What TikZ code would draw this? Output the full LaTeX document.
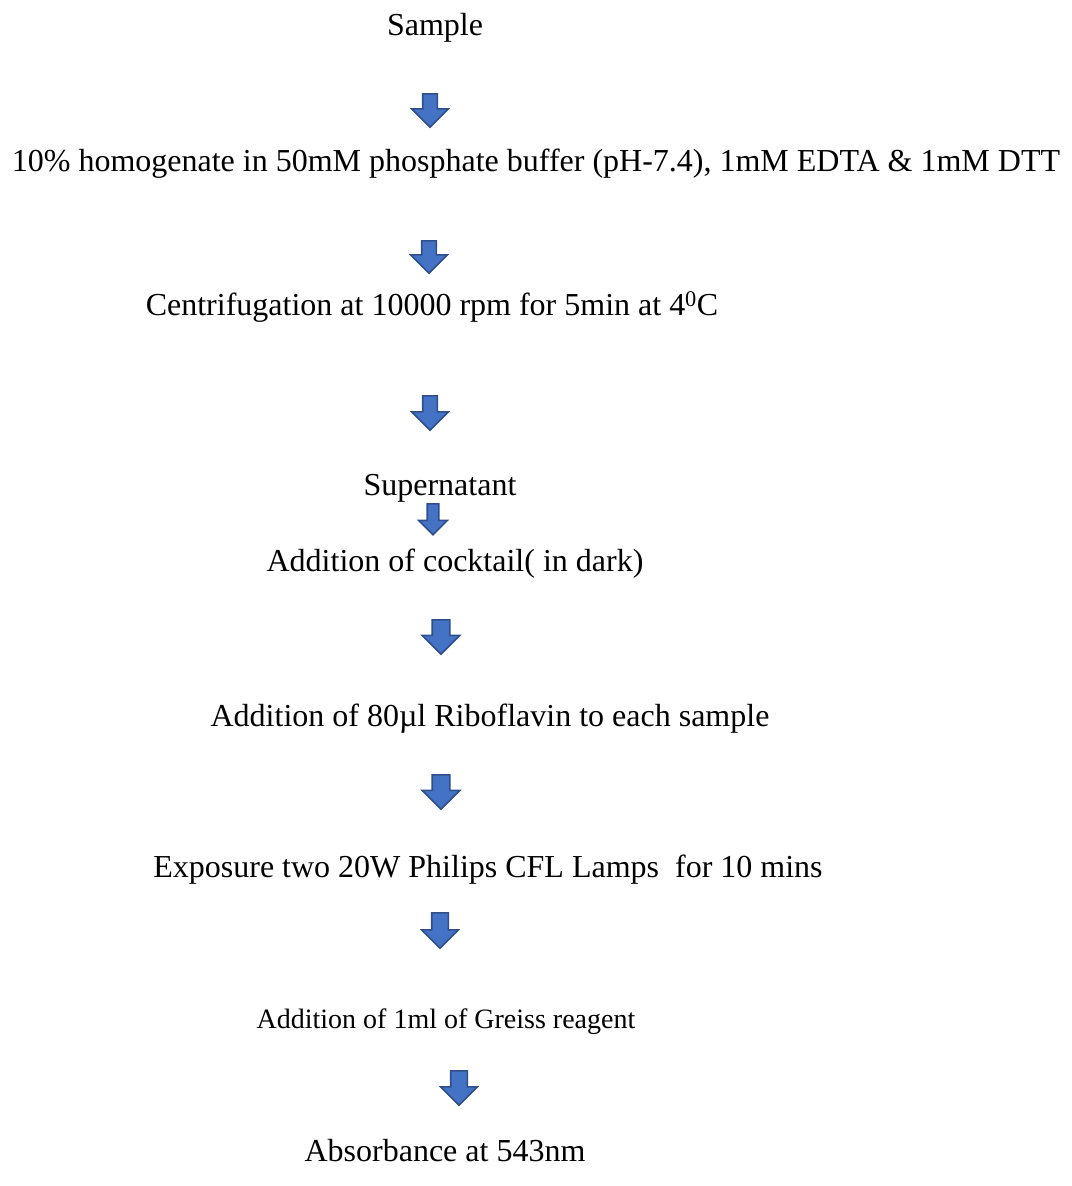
\documentclass[tikz,border=0pt]{standalone}
\usepackage{fontspec}
\setmainfont{Liberation Serif}
\usepackage{tikz}
\usetikzlibrary{shapes.arrows}
\definecolor{arrowfill}{HTML}{4472C4}
\definecolor{arrowedge}{HTML}{2F4F8A}
\tikzset{stagetext/.style={font=\fontsize{32}{38}\selectfont, inner sep=0pt}}
\tikzset{bluearrow/.style n args={3}{shape=single arrow, rotate=-90, anchor=tail, draw=arrowedge, fill=arrowfill, line width=1.6pt,
  inner xsep=#3/2-#2/4+4pt, inner ysep=#1/2, single arrow head extend=#2/2-#1/2, text height=0pt, text depth=0pt}}

\begin{document}
\begin{tikzpicture}[x=1pt,y=-1pt]
\useasboundingbox (0,0) rectangle (1071,1186);
\node[stagetext] (sample) at (435,28) {Sample};
\node[stagetext] (homog) at (536,164) {10\% homogenate in 50mM phosphate buffer (pH-7.4), 1mM EDTA \& 1mM DTT};
\node[stagetext] (centri) at (432,307) {Centrifugation at 10000 rpm for 5min at 4\textsuperscript{0}C};
\node[stagetext] (super) at (440,488) {Supernatant};
\node[stagetext] (cocktail) at (455,564) {Addition of cocktail( in dark)};
\node[stagetext] (ribo) at (490,719) {Addition of 80µl Riboflavin to each sample};
\node[stagetext] (lamps) at (488,870) {Exposure two 20W Philips CFL Lamps~ for 10 mins};
\node[stagetext,font=\fontsize{28}{34}\selectfont] (greiss) at (446,1022) {Addition of 1ml of Greiss reagent};
\node[stagetext] (absorb) at (445,1151) {Absorbance at 543nm};
% block arrows between the steps, placed by their tails
\foreach \n/\x/\y/\s/\w/\l in {1/430/93/13/35/34, 2/429/240/13/35/33, 3/430/395/13/35/35, 4/433/503/10/27/29,
  5/441/619/16/36/34, 6/441/774/16/36/34, 7/440/912/15/35/35, 8/459/1070/15/35/34} {
 \node[bluearrow={\s pt}{\w pt}{\l pt}] (a\n) at (\x,\y) {};
}
\end{tikzpicture}
\end{document}
